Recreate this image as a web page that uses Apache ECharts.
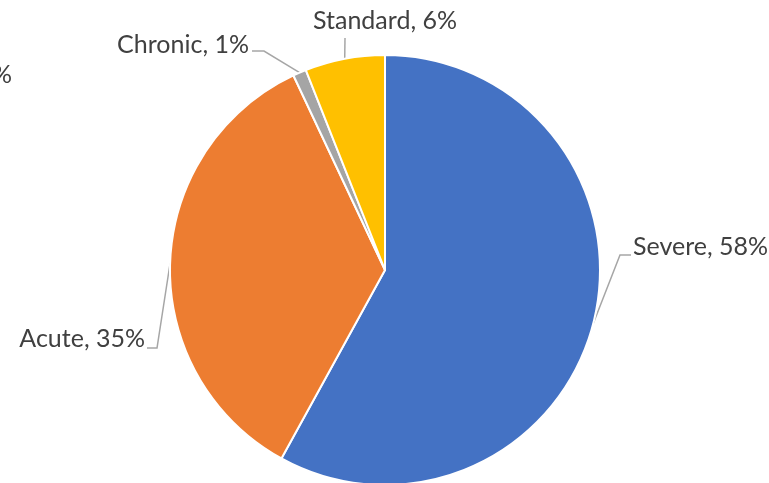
<!DOCTYPE html>
<html>
<head>
<meta charset="utf-8">
<script src="https://cdn.jsdelivr.net/npm/echarts@6/dist/echarts.min.js"></script>
<style>html,body{margin:0;padding:0;background:#fff;}#c{width:769px;height:483px;}</style>
</head>
<body>
<div id="c"></div>
<script>
const categories = ['Severe', 'Acute', 'Chronic', 'Standard'];
const values = [58, 35, 1, 6];
const colors = ['#4472C4', '#ED7D31', '#A5A5A5', '#FFC000'];

// label placement (text anchor) and leader-line elbow, per slice
const labelPos = [
  { x: 633, y: 247, align: 'left', elbow: [[620, 255], [631, 255]] },
  { x: 145, y: 339, align: 'right', elbow: [[157, 348], [147, 348]] },
  { x: 249, y: 45, align: 'right', elbow: [[264, 51], [252, 51]] },
  { x: 313, y: 21, align: 'left', elbow: [[345, 38], [345, 38]] }
];

const chart = echarts.init(document.getElementById('c'), null, { renderer: 'canvas' });
chart.setOption({
  animation: false,
  backgroundColor: '#ffffff',
  graphic: [{
    type: 'text', left: -8, top: 62,
    style: { text: '%', font: '25px Lato', fill: '#404040' }
  }],
  series: [{
    type: 'pie',
    center: [385, 270],
    radius: [0, 215],
    startAngle: 90,
    clockwise: true,
    data: categories.map((c, i) => ({ name: c, value: values[i], itemStyle: { color: colors[i] } })),
    itemStyle: { borderColor: '#ffffff', borderWidth: 2 },
    label: {
      show: true,
      formatter: '{b}, {d}%',
      fontFamily: 'Lato',
      fontSize: 25,
      color: '#404040',
      overflow: 'none',
      width: 300
    },
    labelLine: { show: true, lineStyle: { color: '#A6A6A6', width: 1.5 } },
    labelLayout: function (p) {
      const lp = labelPos[p.dataIndex];
      const start = p.labelLinePoints ? p.labelLinePoints[0] : null;
      const res = { x: lp.x, y: lp.y, align: lp.align, verticalAlign: 'middle' };
      if (start) res.labelLinePoints = [start, lp.elbow[0], lp.elbow[1]];
      return res;
    },
    emphasis: { disabled: true }
  }]
});
</script>
</body>
</html>
